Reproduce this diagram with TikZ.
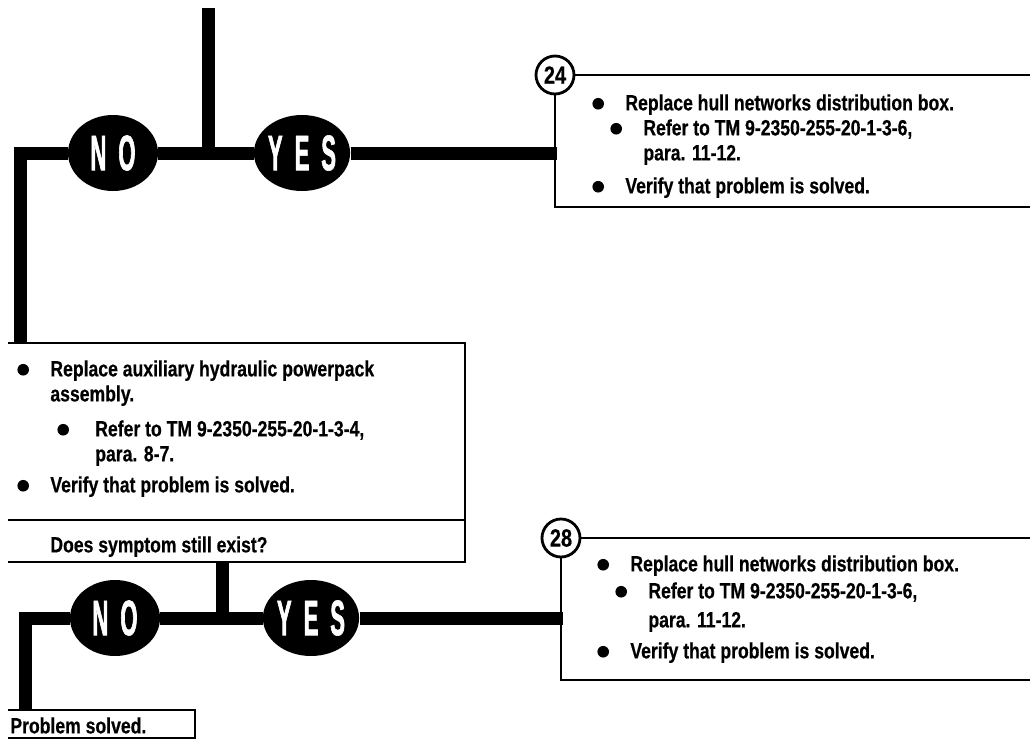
\documentclass[tikz,border=0pt]{standalone}
\usepackage{fontspec}
\setmainfont{Liberation Sans}[FakeStretch=0.8,BoldFeatures={FakeBold=0.5}]
\newfontfamily\ynfont{Liberation Sans}[FakeStretch=0.44,LetterSpace=24,BoldFeatures={FakeBold=1.2}]
\usetikzlibrary{shapes.geometric,positioning}

\newcommand{\stepfont}{\fontsize{11}{12.5}\selectfont\bfseries}
\newcommand{\itm}{\makebox[16.5pt][l]{\tikz[baseline]\fill (2.9pt,0.3em) circle (2.9pt);}}
\newcommand{\subitm}[1][9pt]{\hspace*{#1}\itm}
\newcommand{\subcont}[1][9pt]{\hspace*{#1}\hspace*{16.5pt}}

\tikzset{
    flow/.style={line width=6.5pt},
    frame/.style={line width=1.4pt},
    answer/.style={ellipse, fill=black, text=white, inner sep=0pt,
        minimum width=45pt, minimum height=38pt,
        font=\ynfont\bfseries\fontsize{25}{25}\selectfont},
    stepno/.style={circle, draw, line width=1.4pt, fill=white, inner sep=0pt,
        minimum size=19pt, font=\fontsize{12.5}{12.5}\selectfont\bfseries},
    steptext/.style={anchor=north west, inner sep=0pt, align=left, font=\stepfont}
}

\begin{document}
\begin{tikzpicture}[x=0.5pt,y=-0.5pt]
    \useasboundingbox [fill=white] (0,0) rectangle (1030,740);

    % first question
    \coordinate (in1) at (208,8);
    \coordinate (j1) at (208,153);
    \coordinate (b1w) at (557,153);
    \coordinate (b2nw) at (20,343);
    \node [answer] (no1) at (113,153) {NO};
    \node [answer] (yes1) at (302,153) {YES};

    \draw [flow] (in1) -- (j1);
    \draw [flow] (j1) -- (no1);
    \draw [flow] (j1) -- (yes1);
    \draw [flow] (yes1) -- (b1w);
    \draw [flow] (no1) -| (b2nw);

    % step 24
    \node [stepno] (s24) at (555,75) {24};
    \draw [frame] (s24) -- (1030,75);
    \draw [frame] (s24) |- (1030,207);
    \node [steptext] (t24) at (592,94) {
        \itm Replace hull networks distribution box.\\
        \subitm Refer to TM 9-2350-255-20-1-3-6,\\
        \subcont para. 11-12.\\[4pt]
        \itm Verify that problem is solved.};

    % powerpack box
    \draw [frame] (8,343) -- (465,343) -- (465,562) -- (8,562);
    \draw [frame] (8,520) -- (465,520);
    \node [steptext] (tpp) at (17,360) {
        \itm Replace auxiliary hydraulic powerpack\\
        \hspace*{16.5pt}assembly.\\[5pt]
        \subitm[20pt] Refer to TM 9-2350-255-20-1-3-4,\\
        \subcont[20pt] para. 8-7.\\[3pt]
        \itm Verify that problem is solved.};
    \node [steptext] (q2) at (50,536) {Does symptom still exist?};

    % second question
    \coordinate (j2) at (222,562);
    \coordinate (j2b) at (222,618);
    \coordinate (b3w) at (563,618);
    \coordinate (psn) at (25,710);
    \node [answer] (no2) at (115,618) {NO};
    \node [answer] (yes2) at (311,618) {YES};

    \draw [flow] (j2) -- (j2b);
    \draw [flow] (j2b) -- (no2);
    \draw [flow] (j2b) -- (yes2);
    \draw [flow] (yes2) -- (b3w);
    \draw [flow] (no2) -| (psn);

    % step 28
    \node [stepno] (s28) at (561,538) {28};
    \draw [frame] (s28) -- (1030,538);
    \draw [frame] (s28) |- (1030,680);
    \node [steptext] (t28) at (597,555) {
        \itm Replace hull networks distribution box.\\[1pt]
        \subitm Refer to TM 9-2350-255-20-1-3-6,\\[2pt]
        \subcont para. 11-12.\\[3pt]
        \itm Verify that problem is solved.};

    % end box
    \draw [frame] (8,710) -- (195,710) -- (195,738) -- (8,738);
    \node [steptext] (done) at (10,717) {Problem solved.};
\end{tikzpicture}
\end{document}
